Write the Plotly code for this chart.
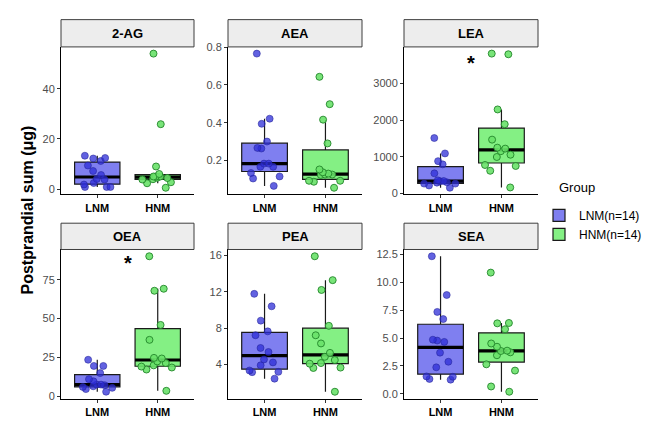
import numpy as np
import plotly.graph_objects as go

# ---------------- data ----------------
groups = ["LNM", "HNM"]
legend_names = ["LNM(n=14)", "HNM(n=14)"]
legend_title = "Group"
panels = ["2-AG", "AEA", "LEA", "OEA", "PEA", "SEA"]

ag2_lnm = [1.8, 9.4, 5.6, 4.0, 7.2, 11.2, 12.2, 3.8, 0.8, 2.4, 0.8, 12.4, 0.8, 13.3]
ag2_hnm = [54.1, 25.9, 9.0, 0.5, 5.0, 3.8, 3.9, 2.3, 5.0, 4.4, 6.0, 4.5, 5.0, 2.7]

aea_lnm = [0.766, 0.394, 0.421, 0.300, 0.263, 0.266, 0.183, 0.183, 0.166, 0.166, 0.133, 0.115, 0.104, 0.065]
aea_hnm = [0.643, 0.498, 0.416, 0.290, 0.152, 0.130, 0.125, 0.125, 0.137, 0.123, 0.092, 0.092, 0.087, 0.055]

lea_lnm = [1514, 1094, 884, 796, 551, 271, 219, 333, 306, 271, 341, 298, 158, 360]
lea_hnm = [3815, 3797, 2293, 1890, 1470, 1225, 1251, 1155, 1059, 997, 779, 752, 621, 166]

oea_lnm = [19.5, 19.5, 23.5, 14.9, 11.0, 9.6, 7.1, 7.5, 5.4, 6.0, 4.6, 2.9, 7.5, 6.4]
oea_hnm = [90.1, 67.9, 69.2, 45.9, 36.3, 24.3, 22.4, 21.4, 24.7, 19.9, 19.1, 18.5, 17.2, 3.5]

pea_lnm = [11.76, 10.39, 7.63, 8.81, 7.20, 5.80, 5.36, 4.54, 4.21, 3.89, 3.32, 3.14, 3.17, 2.42]
pea_hnm = [15.9, 13.27, 12.19, 8.24, 7.20, 6.30, 5.26, 4.83, 4.14, 4.47, 4.07, 3.60, 3.64, 0.98]

sea_lnm = [12.30, 8.84, 7.33, 6.69, 4.77, 4.85, 4.65, 3.69, 2.88, 2.38, 1.54, 1.28, 1.34, 1.57]
sea_hnm = [10.84, 5.78, 6.31, 6.34, 4.51, 4.22, 3.84, 3.72, 3.87, 3.46, 2.65, 2.09, 0.67, 0.20]

ag2_ticks = [0, 20, 40]
aea_ticks = [0.2, 0.4, 0.6, 0.8]
lea_ticks = [0, 1000, 2000, 3000]
oea_ticks = [0, 25, 50, 75]
pea_ticks = [4, 8, 12, 16]
sea_ticks = [0.0, 2.5, 5.0, 7.5, 10.0, 12.5]
sea_ticktext = ["0.0", "2.5", "5.0", "7.5", "10.0", "12.5"]

# significance marks: panel -> y value of the asterisk
sig_panels = ["LEA", "OEA"]
sig_values = [3580, 86.7]

panel_data = {
    "2-AG": (ag2_lnm, ag2_hnm, ag2_ticks, [str(t) for t in ag2_ticks]),
    "AEA": (aea_lnm, aea_hnm, aea_ticks, [str(t) for t in aea_ticks]),
    "LEA": (lea_lnm, lea_hnm, lea_ticks, [str(t) for t in lea_ticks]),
    "OEA": (oea_lnm, oea_hnm, oea_ticks, [str(t) for t in oea_ticks]),
    "PEA": (pea_lnm, pea_hnm, pea_ticks, [str(t) for t in pea_ticks]),
    "SEA": (sea_lnm, sea_hnm, sea_ticks, sea_ticktext),
}

# ---------------- style ----------------
W, H = 668, 423
FONT = "Liberation Sans, Arial, sans-serif"
col_px = [(61, 194), (228, 362), (404, 538)]
row_px = [(42, 193.5), (250, 403)]      # plot area (top, bottom)
strip_px = [(14, 42), (223, 250)]
box_fill = ["#7f7ff0", "#84f084"]
pt_fill = ["rgba(45,45,215,0.75)", "rgba(105,225,105,0.9)"]
pt_line = ["rgba(35,35,150,0.6)", "#23862a"]
BOXW = 0.75


def px_x(p):
    return p / W


def px_y(p):
    return 1 - p / H


def box_stats(vals):
    v = np.sort(np.asarray(vals, dtype=float))
    q1, med, q3 = np.percentile(v, [25, 50, 75])
    iqr = q3 - q1
    lf = v[v >= q1 - 1.5 * iqr].min()
    uf = v[v <= q3 + 1.5 * iqr].max()
    return float(q1), float(med), float(q3), float(lf), float(uf)


fig = go.Figure()
layout_axes = {}
annotations = []
shapes = []

for i, name in enumerate(panels):
    r, c = divmod(i, 3)
    k = i + 1
    xa = "x" if k == 1 else f"x{k}"
    ya = "y" if k == 1 else f"y{k}"
    lnm, hnm, tv, tt = panel_data[name]
    series = [lnm, hnm]
    for g in range(2):
        vals = series[g]
        q1, med, q3, lf, uf = box_stats(vals)
        # box with ggplot-style (type 7) statistics
        fig.add_trace(go.Box(
            x=[g], q1=[q1], median=[med], q3=[q3], lowerfence=[lf], upperfence=[uf],
            name=legend_names[g], xaxis=xa, yaxis=ya, width=BOXW,
            boxpoints=False, whiskerwidth=0, fillcolor=box_fill[g],
            line=dict(color="#1a1a1a", width=1.2),
            marker=dict(size=7, color=pt_fill[g], line=dict(color=pt_line[g], width=0.9)),
            legendgroup=groups[g], showlegend=(i == 0), hoverinfo="skip",
        ))
        # thick median bar
        fig.add_trace(go.Box(
            x=[g], q1=[med], median=[med], q3=[med], lowerfence=[med], upperfence=[med],
            xaxis=xa, yaxis=ya, width=BOXW, boxpoints=False, whiskerwidth=0,
            fillcolor="rgba(0,0,0,0)", line=dict(color="black", width=3.2),
            legendgroup=groups[g], showlegend=False, hoverinfo="skip",
        ))
        # jittered raw points
        fig.add_trace(go.Box(
            x=[g] * len(vals), y=vals, xaxis=xa, yaxis=ya, width=BOXW,
            boxpoints="all", jitter=0.85, pointpos=0, whiskerwidth=0,
            fillcolor="rgba(0,0,0,0)", line=dict(color="rgba(0,0,0,0)", width=0),
            marker=dict(size=7, color=pt_fill[g], line=dict(color=pt_line[g], width=0.9)),
            legendgroup=groups[g], showlegend=False,
        ))
    allv = np.array(lnm + hnm, dtype=float)
    lo, hi = allv.min(), allv.max()
    pad = 0.05 * (hi - lo)
    x0, x1 = col_px[c]
    yt, yb = row_px[r]
    layout_axes["xaxis" if k == 1 else f"xaxis{k}"] = dict(
        domain=[px_x(x0), px_x(x1)], anchor=ya, range=[-0.6, 1.6],
        tickvals=[0, 1], ticktext=groups, showline=True, linecolor="black", linewidth=1,
        ticks="outside", ticklen=3, tickcolor="#333", showgrid=False, zeroline=False,
        tickfont=dict(family=FONT, size=11, color="black", weight="bold"),
    )
    layout_axes["yaxis" if k == 1 else f"yaxis{k}"] = dict(
        domain=[px_y(yb), px_y(yt)], anchor=xa, range=[lo - pad, hi + pad],
        tickvals=tv, ticktext=tt, showline=True, linecolor="black", linewidth=1,
        ticks="outside", ticklen=3, tickcolor="#333", showgrid=False, zeroline=False,
        tickfont=dict(family=FONT, size=11, color="#4d4d4d"),
    )
    st, sb = strip_px[r]
    shapes.append(dict(type="rect", xref="paper", yref="paper",
                       x0=px_x(x0), x1=px_x(x1), y0=px_y(sb), y1=px_y(st),
                       fillcolor="#ededed", line=dict(color="#3d3d3d", width=1)))
    annotations.append(dict(text=f"<b>{name}</b>", xref="paper", yref="paper",
                            x=px_x((x0 + x1) / 2), y=px_y((st + sb) / 2),
                            xanchor="center", yanchor="middle", showarrow=False,
                            font=dict(family=FONT, size=13, color="black")))
    if name in sig_panels:
        annotations.append(dict(text="<b>*</b>", xref=xa, yref=ya, x=0.5,
                                y=sig_values[sig_panels.index(name)],
                                xanchor="center", yanchor="middle", showarrow=False,
                                yshift=-1, font=dict(family=FONT, size=20, color="black")))

annotations.append(dict(text="<b>Postprandial sum (μg)</b>", xref="paper", yref="paper",
                        x=px_x(28), y=px_y(210), textangle=-90, showarrow=False,
                        xanchor="center", yanchor="middle",
                        font=dict(family=FONT, size=16, color="black")))
annotations.append(dict(text=legend_title, xref="paper", yref="paper",
                        x=px_x(557), y=px_y(186), showarrow=False,
                        xanchor="left", yanchor="middle",
                        font=dict(family=FONT, size=13, color="black")))

fig.update_layout(
    width=W, height=H, margin=dict(l=0, r=0, t=0, b=0),
    paper_bgcolor="white", plot_bgcolor="white", boxmode="overlay",
    font=dict(family=FONT),
    shapes=shapes, annotations=annotations,
    legend=dict(x=px_x(539), y=px_y(200), xanchor="left", yanchor="top",
                font=dict(family=FONT, size=12, color="black"),
                bgcolor="rgba(0,0,0,0)", itemwidth=30, tracegroupgap=0),
    **layout_axes,
)

fig.write_html("out.html", config={"displayModeBar": False},
               post_script="document.body.style.margin='0px';")
